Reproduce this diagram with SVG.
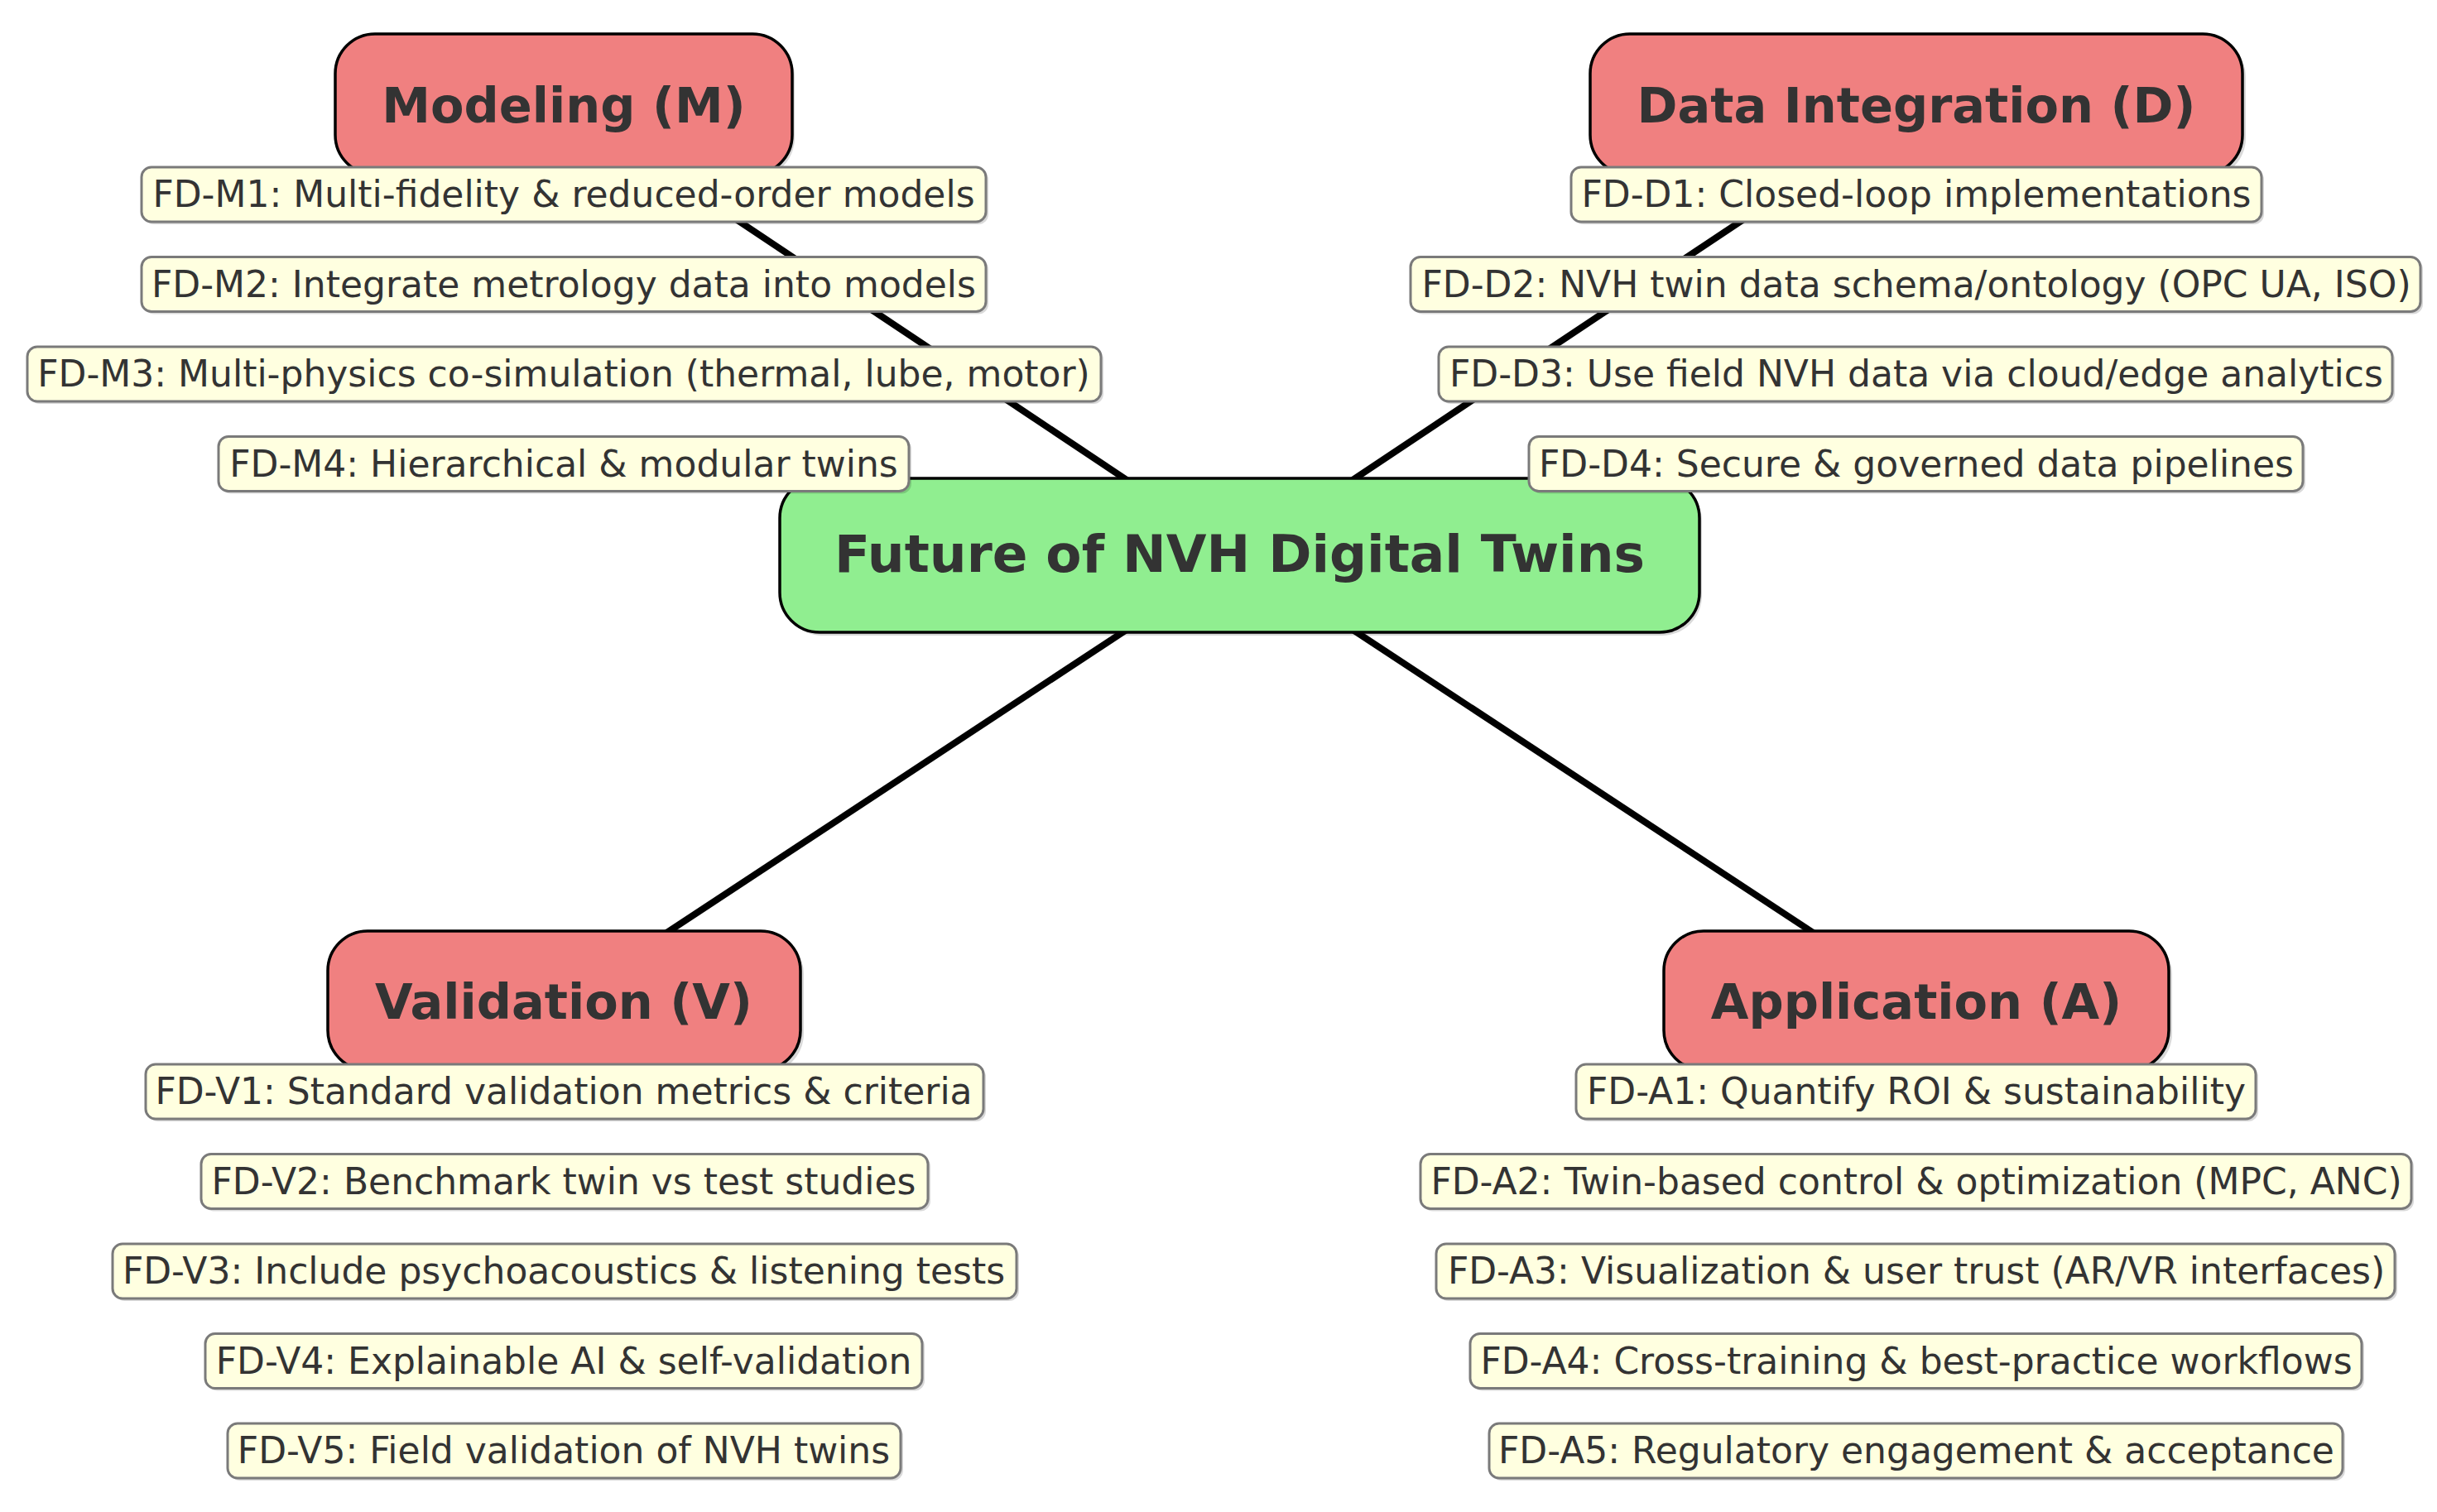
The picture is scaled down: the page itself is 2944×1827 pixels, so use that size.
<svg xmlns="http://www.w3.org/2000/svg" width="2944" height="1827" viewBox="0 0 2944 1827">
<style>
.bg{fill:#ffffff}
.edge{stroke:#000;stroke-width:8;fill:none}
.cat{fill:#F08080;stroke:#000;stroke-width:3.5}
.root{fill:#90EE90;stroke:#000;stroke-width:3.5}
.item{fill:#FFFFE0;stroke:#7a7a7a;stroke-width:3}
.sh{fill:#000;opacity:0.15}
.tb{font-family:"DejaVu Sans","Liberation Sans",sans-serif;font-weight:bold;fill:#333333;text-anchor:middle}
.ti{font-family:"DejaVu Sans","Liberation Sans",sans-serif;font-size:44px;fill:#333333;text-anchor:middle}
</style>
<rect class="bg" x="0" y="0" width="2944" height="1827"/>
<g id="connectors">
<line class="edge" x1="1497.5" y1="671" x2="681" y2="126"/>
<line class="edge" x1="1497.5" y1="671" x2="2315" y2="126"/>
<line class="edge" x1="1497.5" y1="671" x2="681" y2="1209"/>
<line class="edge" x1="1497.5" y1="671" x2="2315" y2="1209"/>
</g>
<g id="cat-M">
<rect class="sh" x="408" y="45" width="552" height="170" rx="48"/>
<rect class="cat" x="405" y="41" width="552" height="170" rx="48"/>
<text class="tb" x="681" y="148" font-size="59">Modeling (M)</text>
</g>
<g id="cat-D">
<rect class="sh" x="1925" y="45" width="788" height="170" rx="48"/>
<rect class="cat" x="1921" y="41" width="788" height="170" rx="48"/>
<text class="tb" x="2315" y="148" font-size="59">Data Integration (D)</text>
</g>
<g id="cat-V">
<rect class="sh" x="400" y="1129" width="571" height="168" rx="48"/>
<rect class="cat" x="396" y="1125" width="571" height="168" rx="48"/>
<text class="tb" x="681" y="1231" font-size="59">Validation (V)</text>
</g>
<g id="cat-A">
<rect class="sh" x="2014" y="1129" width="610" height="168" rx="48"/>
<rect class="cat" x="2010" y="1125" width="610" height="168" rx="48"/>
<text class="tb" x="2315" y="1231" font-size="59">Application (A)</text>
</g>
<g id="root">
<rect class="sh" x="945" y="582" width="1111" height="186" rx="48"/>
<rect class="root" x="942" y="578" width="1111" height="186" rx="48"/>
<text class="tb" x="1497.5" y="691" font-size="63">Future of NVH Digital Twins</text>
</g>
<g id="M1"><rect class="sh" x="174" y="205" width="1020" height="66" rx="12"/><rect class="item" x="171" y="202" width="1020" height="66" rx="12"/><text class="ti" x="681" y="250">FD-M1: Multi-fidelity &amp; reduced-order models</text></g>
<g id="M2"><rect class="sh" x="174" y="313.5" width="1020" height="66" rx="12"/><rect class="item" x="171" y="310.5" width="1020" height="66" rx="12"/><text class="ti" x="681" y="358.5">FD-M2: Integrate metrology data into models</text></g>
<g id="M3"><rect class="sh" x="36" y="422" width="1297" height="66" rx="12"/><rect class="item" x="33" y="419" width="1297" height="66" rx="12"/><text class="ti" x="681" y="467">FD-M3: Multi-physics co-simulation (thermal, lube, motor)</text></g>
<g id="M4"><rect class="sh" x="267" y="530.5" width="834" height="66" rx="12"/><rect class="item" x="264" y="527.5" width="834" height="66" rx="12"/><text class="ti" x="681" y="575.5">FD-M4: Hierarchical &amp; modular twins</text></g>
<g id="D1"><rect class="sh" x="1901" y="205" width="834" height="66" rx="12"/><rect class="item" x="1898" y="202" width="834" height="66" rx="12"/><text class="ti" x="2315" y="250">FD-D1: Closed-loop implementations</text></g>
<g id="D2"><rect class="sh" x="1707" y="313.5" width="1220" height="66" rx="12"/><rect class="item" x="1704" y="310.5" width="1220" height="66" rx="12"/><text class="ti" x="2315" y="358.5">FD-D2: NVH twin data schema/ontology (OPC UA, ISO)</text></g>
<g id="D3"><rect class="sh" x="1741" y="422" width="1152" height="66" rx="12"/><rect class="item" x="1738" y="419" width="1152" height="66" rx="12"/><text class="ti" x="2315" y="467">FD-D3: Use field NVH data via cloud/edge analytics</text></g>
<g id="D4"><rect class="sh" x="1850" y="530.5" width="935" height="66" rx="12"/><rect class="item" x="1847" y="527.5" width="935" height="66" rx="12"/><text class="ti" x="2315" y="575.5">FD-D4: Secure &amp; governed data pipelines</text></g>
<g id="V1"><rect class="sh" x="179" y="1289" width="1012" height="66" rx="12"/><rect class="item" x="176" y="1286" width="1012" height="66" rx="12"/><text class="ti" x="681" y="1334">FD-V1: Standard validation metrics &amp; criteria</text></g>
<g id="V2"><rect class="sh" x="246" y="1397.5" width="878" height="66" rx="12"/><rect class="item" x="243" y="1394.5" width="878" height="66" rx="12"/><text class="ti" x="681" y="1442.5">FD-V2: Benchmark twin vs test studies</text></g>
<g id="V3"><rect class="sh" x="139" y="1506" width="1092" height="66" rx="12"/><rect class="item" x="136" y="1503" width="1092" height="66" rx="12"/><text class="ti" x="681" y="1551">FD-V3: Include psychoacoustics &amp; listening tests</text></g>
<g id="V4"><rect class="sh" x="251" y="1614.5" width="866" height="66" rx="12"/><rect class="item" x="248" y="1611.5" width="866" height="66" rx="12"/><text class="ti" x="681" y="1659.5">FD-V4: Explainable AI &amp; self-validation</text></g>
<g id="V5"><rect class="sh" x="278" y="1723" width="813" height="66" rx="12"/><rect class="item" x="275" y="1720" width="813" height="66" rx="12"/><text class="ti" x="681" y="1768">FD-V5: Field validation of NVH twins</text></g>
<g id="A1"><rect class="sh" x="1907" y="1289" width="821" height="66" rx="12"/><rect class="item" x="1904" y="1286" width="821" height="66" rx="12"/><text class="ti" x="2315" y="1334">FD-A1: Quantify ROI &amp; sustainability</text></g>
<g id="A2"><rect class="sh" x="1719" y="1397.5" width="1197" height="66" rx="12"/><rect class="item" x="1716" y="1394.5" width="1197" height="66" rx="12"/><text class="ti" x="2315" y="1442.5">FD-A2: Twin-based control &amp; optimization (MPC, ANC)</text></g>
<g id="A3"><rect class="sh" x="1738" y="1506" width="1158" height="66" rx="12"/><rect class="item" x="1735" y="1503" width="1158" height="66" rx="12"/><text class="ti" x="2315" y="1551">FD-A3: Visualization &amp; user trust (AR/VR interfaces)</text></g>
<g id="A4"><rect class="sh" x="1779" y="1614.5" width="1077" height="66" rx="12"/><rect class="item" x="1776" y="1611.5" width="1077" height="66" rx="12"/><text class="ti" x="2315" y="1659.5">FD-A4: Cross-training &amp; best-practice workflows</text></g>
<g id="A5"><rect class="sh" x="1802" y="1723" width="1031" height="66" rx="12"/><rect class="item" x="1799" y="1720" width="1031" height="66" rx="12"/><text class="ti" x="2315" y="1768">FD-A5: Regulatory engagement &amp; acceptance</text></g>
</svg>
